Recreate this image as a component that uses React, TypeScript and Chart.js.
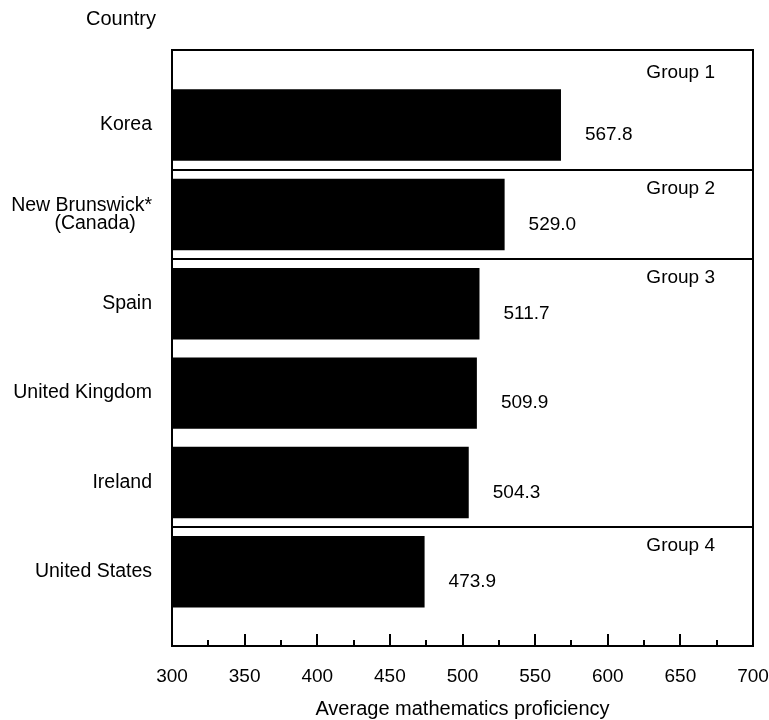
import React, { useEffect, useRef } from "react";
import { Chart, registerables } from "chart.js";

Chart.register(...registerables);

const countries: (string | string[])[] = [
  "Korea",
  ["New Brunswick*", "(Canada)   "],
  "Spain",
  "United Kingdom",
  "Ireland",
  "United States",
];
const scores = [567.8, 529.0, 511.7, 509.9, 504.3, 473.9];
const groupNames = ["Group 1", "Group 2", "Group 3", "Group 4"];
const groupFirstIndex = [0, 1, 2, 5];
const xTickValues = [300, 350, 400, 450, 500, 550, 600, 650, 700];

const FONT = "'Liberation Sans', Arial, Helvetica, sans-serif";

export default function App() {
  const ref = useRef<HTMLCanvasElement | null>(null);

  useEffect(() => {
    if (!ref.current) return;

    const overlay = {
      id: "overlay",
      afterDatasetsDraw(chart: any) {
        const ctx = chart.ctx;
        const { left, right, top, bottom } = chart.chartArea;
        const xs = chart.scales.x;
        const ys = chart.scales.y;
        ctx.save();
        ctx.strokeStyle = "#000";
        ctx.fillStyle = "#000";
        // frame
        ctx.lineWidth = 2;
        ctx.strokeRect(left, top, right - left, bottom - top);
        // group separators
        groupFirstIndex.forEach((gi) => {
          if (gi === 0) return;
          const y = Math.round(ys.getPixelForValue(gi - 0.5));
          ctx.beginPath();
          ctx.moveTo(left, y);
          ctx.lineTo(right, y);
          ctx.stroke();
        });
        // group labels
        ctx.font = `19px ${FONT}`;
        ctx.textAlign = "right";
        ctx.textBaseline = "middle";
        groupFirstIndex.forEach((gi, k) => {
          const yb = gi === 0 ? top : ys.getPixelForValue(gi - 0.5);
          ctx.fillText(groupNames[k], right - 38, yb + (gi === 0 ? 23 : 19));
        });
        // value labels
        ctx.textAlign = "left";
        scores.forEach((v, i) => {
          ctx.fillText(v.toFixed(1), xs.getPixelForValue(v) + 24, ys.getPixelForValue(i) + 10);
        });
        // inward x ticks
        ctx.lineWidth = 2;
        for (let v = 325; v < 700; v += 25) {
          const x = Math.round(xs.getPixelForValue(v));
          const len = v % 50 === 0 ? 12 : 6;
          ctx.beginPath();
          ctx.moveTo(x, bottom);
          ctx.lineTo(x, bottom - len);
          ctx.stroke();
        }
        // titles
        ctx.font = `20px ${FONT}`;
        ctx.textAlign = "center";
        ctx.fillText("Country", 121, 19);
        ctx.fillText("Average mathematics proficiency", (left + right) / 2, 709);
        ctx.restore();
      },
    };

    const chart = new Chart(ref.current, {
      type: "bar",
      data: {
        datasets: [
          {
            data: scores.map((v, i) => ({ x: v, y: i })),
            backgroundColor: "#000",
            borderWidth: 0,
            barPercentage: 0.8,
            categoryPercentage: 1,
          },
        ],
      },
      options: {
        indexAxis: "y",
        responsive: false,
        animation: false,
        devicePixelRatio: 1,
        layout: { padding: { top: 50, right: 16, left: 0, bottom: 0 } },
        plugins: { legend: { display: false }, tooltip: { enabled: false } },
        scales: {
          x: {
            type: "linear",
            min: 300,
            max: 700,
            offset: false,
            grid: { display: false, drawTicks: false },
            border: { display: false },
            afterBuildTicks: (s: any) => {
              s.ticks = xTickValues.map((v) => ({ value: v }));
            },
            afterFit: (s: any) => {
              s.height = 74;
              s.paddingRight = 0;
              s.paddingLeft = 0;
            },
            ticks: {
              color: "#000",
              padding: 19,
              maxRotation: 0,
              autoSkip: false,
              font: { family: FONT, size: 19 },
            },
          },
          y: {
            type: "linear",
            reverse: true,
            min: -0.84,
            max: 5.83,
            offset: false,
            grid: { display: false, drawTicks: false, offset: false },
            border: { display: false },
            afterBuildTicks: (s: any) => {
              s.ticks = countries.map((_, i) => ({ value: i }));
            },
            afterFit: (s: any) => {
              s.width = 172;
              s.paddingTop = 0;
              s.paddingBottom = 0;
            },
            ticks: {
              color: "#000",
              padding: 20,
              autoSkip: false,
              font: { family: FONT, size: 19.5, lineHeight: 0.95 },
              callback: (v: any) => countries[Math.round(Number(v))] ?? "",
            },
          },
        },
      },
      plugins: [overlay],
    });
    return () => chart.destroy();
  }, []);

  return (
    <div style={{ position: "fixed", left: 0, top: 0, width: 769, height: 720, background: "#fff" }}>
      <canvas ref={ref} width={769} height={720} style={{ display: "block" }} />
    </div>
  );
}
